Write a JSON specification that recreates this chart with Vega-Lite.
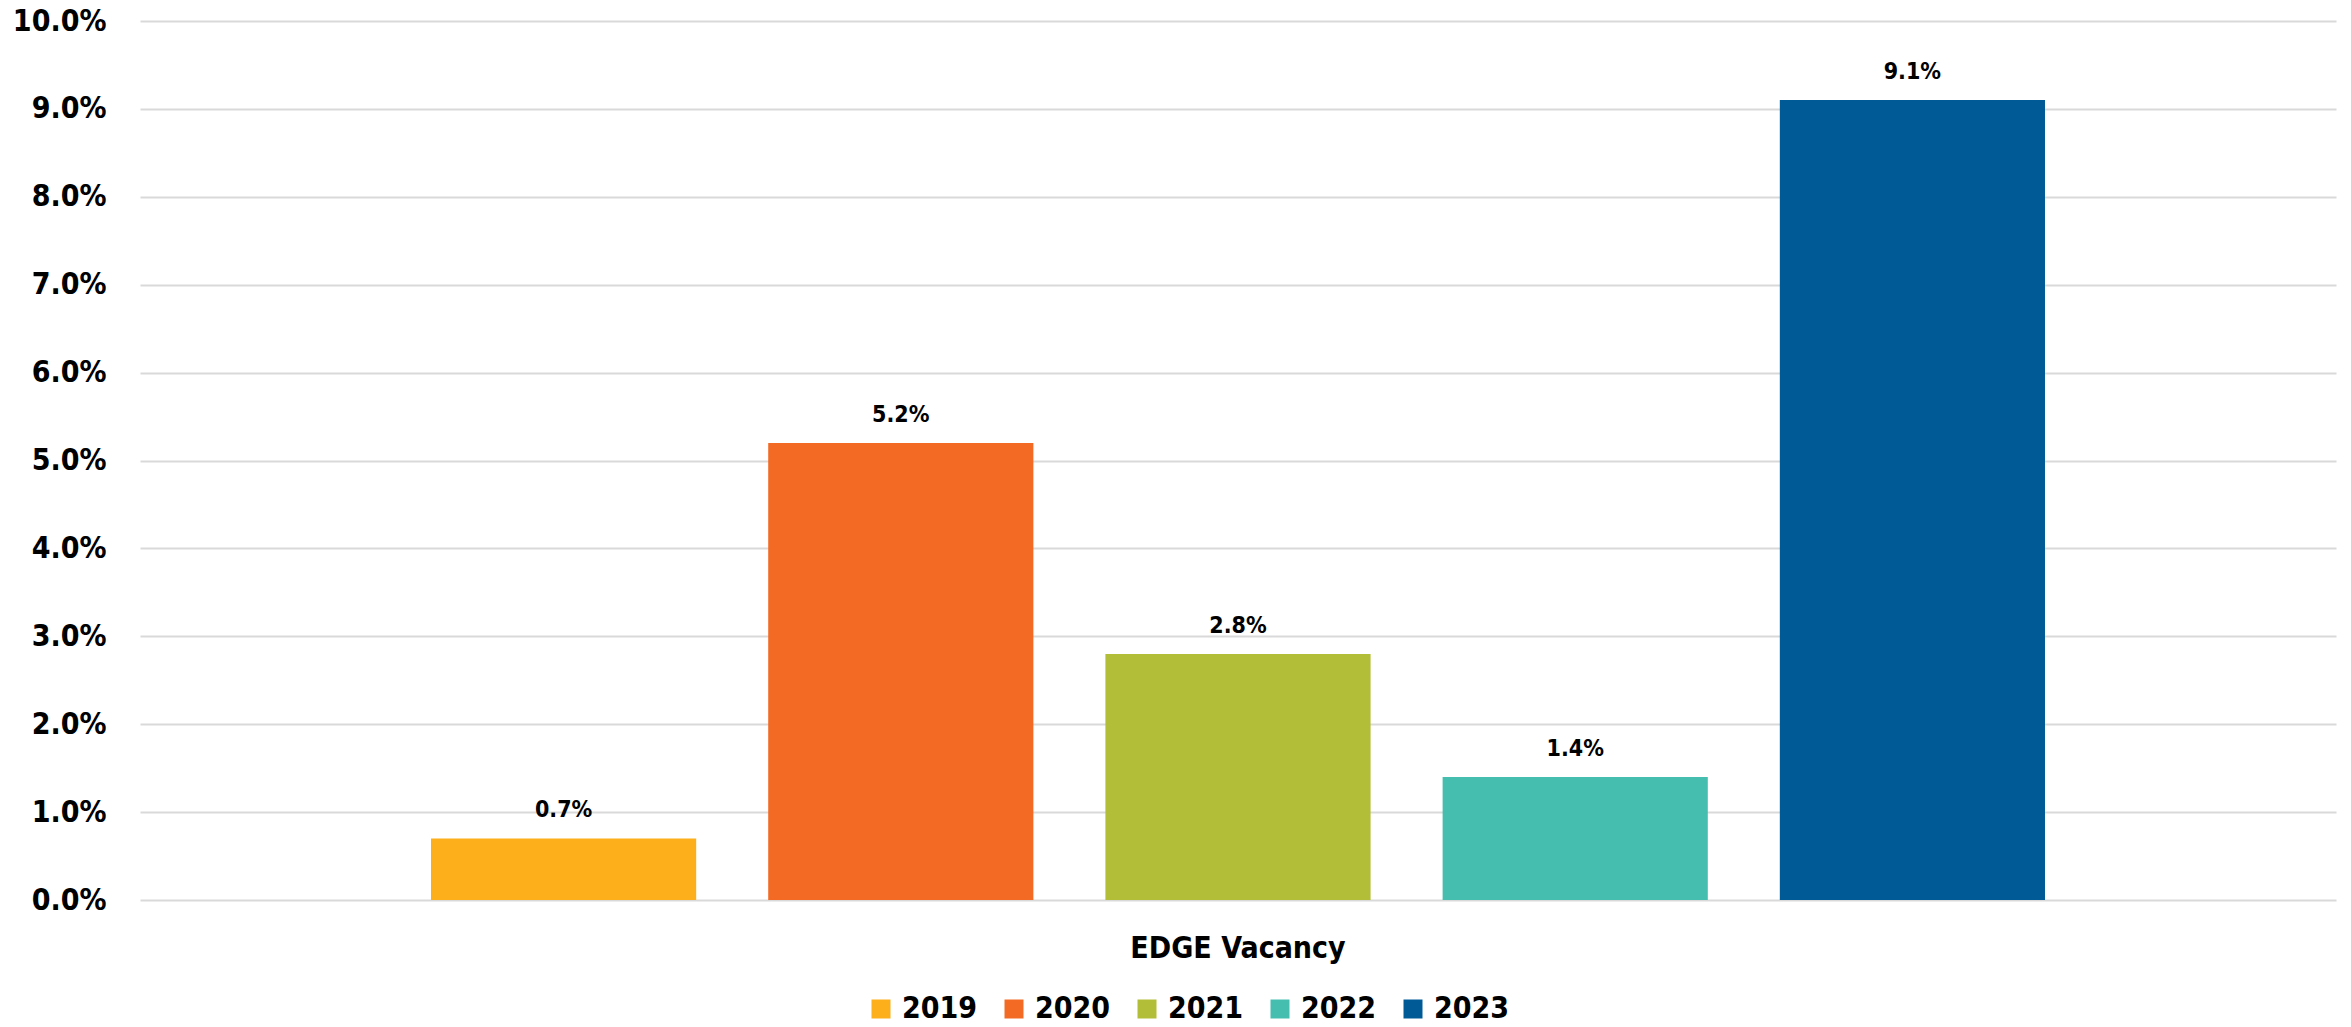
{
  "$schema": "https://vega.github.io/schema/vega-lite/v6.json",
  "autosize": {"type": "none"},
  "width": 2196,
  "height": 879,
  "padding": {"left": 140, "top": 21, "right": 15, "bottom": 127},
  "background": "white",
  "config": {
    "view": {"stroke": null},
    "font": "DejaVu Sans Condensed, sans-serif"
  },
  "data": {
    "values": [
      {"cat": "EDGE Vacancy", "year": "2019", "value": 0.007},
      {"cat": "EDGE Vacancy", "year": "2020", "value": 0.052},
      {"cat": "EDGE Vacancy", "year": "2021", "value": 0.028},
      {"cat": "EDGE Vacancy", "year": "2022", "value": 0.014},
      {"cat": "EDGE Vacancy", "year": "2023", "value": 0.091}
    ]
  },
  "encoding": {
    "x": {
      "field": "cat", "type": "nominal", "title": null,
      "scale": {"paddingInner": 0, "paddingOuter": 0},
      "axis": {"domain": false, "ticks": false, "labelAngle": 0, "labelFontSize": 30, "labelFontWeight": "bold", "labelColor": "black", "labelPadding": 33, "labelBaseline": "top", "labelLimit": 0, "labelFont": "DejaVu Sans Condensed, sans-serif"}
    },
    "xOffset": {
      "field": "year", "type": "nominal",
      "scale": {"paddingInner": 0.2136, "paddingOuter": 0.863}
    },
    "y": {
      "field": "value", "type": "quantitative", "title": null,
      "scale": {"domain": [0, 0.1], "nice": false},
      "axis": {"values": [0, 0.01, 0.02, 0.03, 0.04, 0.05, 0.06, 0.07, 0.08, 0.09, 0.1], "format": ".1%", "domain": false, "ticks": false, "gridColor": "#d9d9d9", "gridWidth": 2, "labelFontSize": 30, "labelFontWeight": "bold", "labelColor": "black", "labelPadding": 34, "labelFont": "DejaVu Sans Condensed, sans-serif"}
    }
  },
  "layer": [
    {
      "mark": {"type": "bar"},
      "encoding": {
        "color": {
          "field": "year", "type": "nominal", "title": null,
          "scale": {"domain": ["2019", "2020", "2021", "2022", "2023"], "range": ["#FCAF1A", "#F26A24", "#B2BE37", "#45BEB0", "#005A96"]},
          "legend": {"orient": "none", "legendX": 726, "legendY": 973, "direction": "horizontal", "symbolType": "square", "symbolSize": 361, "symbolStrokeWidth": 0, "labelFontSize": 30, "labelFontWeight": "bold", "labelColor": "black", "columnPadding": 21, "symbolOffset": 0, "labelOffset": 6, "labelFont": "DejaVu Sans Condensed, sans-serif"}
        }
      }
    },
    {
      "mark": {"type": "text", "baseline": "middle", "dy": -28, "fontSize": 23, "fontWeight": "bold", "color": "black", "font": "DejaVu Sans Condensed, sans-serif"},
      "encoding": {
        "text": {"field": "value", "type": "quantitative", "format": ".1%"}
      }
    }
  ]
}
